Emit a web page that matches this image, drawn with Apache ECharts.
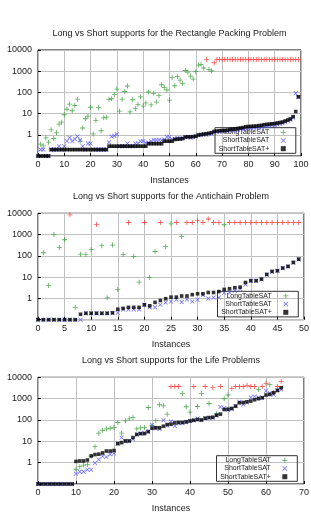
<!DOCTYPE html>
<html><head><meta charset="utf-8">
<script src="https://cdn.jsdelivr.net/npm/echarts@6/dist/echarts.min.js"></script>
<style>html,body{margin:0;padding:0;background:#fff}#c{width:311px;height:516px}</style>
</head><body><div id="c"></div>
<script>
// ---------- Data ----------
const seriesNames = ['LongTableSAT', 'ShortTableSAT', 'ShortTableSAT+'];
const yTicks = [0.1, 1, 10, 100, 1000, 10000];

// Rectangle Packing (instances 0..99)
const rectTitle = 'Long vs Short supports for the Rectangle Packing Problem';
const rectLong = [null,0.36,0.30,0.72,0.45,1.72,0.67,1.24,3.2,3.96,
  8.8,16,28,13.6,24,48,0.5,2.1,5.7,7.6,
  20,1.1,4.8,19,1.55,6.3,6.8,47,50,80,
  144,13,48,110,200,12,45,17.6,27,62,
  22.6,32,104,26,90,35,70,230,172,130,
  43,510,206,570,380,265,1080,910,590,425,
  950,1950,2100,1420,3600,1230,1020,2500,3600,3600,
  3600,3600,3600,3600,3600,3600,3600,3600,3600,3600,
  3600,3600,3600,3600,3600,3600,3600,3600,3600,3600,
  3600,3600,3600,3600,3600,3600,3600,3600,3600,3600];
const rectTimeouts = [64,67,68,69,70,71,72,73,74,75,76,77,78,79,80,81,82,83,84,85,86,87,88,89,90,91,92,93,94,95,96,97,98,99];
const rectShort = [0.1,0.2,0.2,0.1,0.1,0.2,0.2,0.2,0.29,0.2,
  0.29,0.5,0.72,0.5,0.63,0.84,0.56,0.29,0.2,0.39,
  0.39,0.2,0.2,0.2,0.2,0.2,0.2,0.44,0.84,0.9,
  1.05,0.29,0.29,0.29,0.39,0.29,0.29,0.39,0.39,0.5,
  0.5,0.42,0.42,0.5,0.57,0.57,0.57,0.55,0.6,0.78,
  0.78,0.62,0.66,0.7,0.66,0.7,0.78,0.8,0.72,0.78,
  0.85,0.95,1.0,1.05,1.0,1.1,1.15,1.3,1.35,1.4,
  1.45,1.5,1.5,1.6,1.65,1.7,1.75,1.85,1.9,2.0,
  2.1,2.1,2.2,2.2,2.3,2.4,2.5,2.6,2.7,2.8,
  2.9,3.1,3.3,3.5,4.0,4.5,5.2,6.6,90,60];
const rectShortPlus = [0.1,0.1,0.1,0.1,0.1,0.2,0.2,0.2,0.2,0.2,
  0.2,0.2,0.2,0.2,0.2,0.2,0.2,0.2,0.2,0.2,
  0.2,0.2,0.2,0.2,0.2,0.2,0.2,0.29,0.29,0.29,
  0.29,0.29,0.29,0.29,0.29,0.29,0.29,0.29,0.29,0.29,
  0.29,0.29,0.38,0.38,0.38,0.38,0.38,0.38,0.5,0.5,
  0.5,0.5,0.6,0.62,0.64,0.66,0.78,0.8,0.8,0.82,
  0.85,0.98,1.02,1.08,1.12,1.18,1.25,1.45,1.5,1.55,
  1.58,1.6,1.65,1.8,1.85,1.9,2.0,2.1,2.2,2.4,
  2.45,2.5,2.55,2.6,2.7,2.8,3.0,3.1,3.2,3.3,
  3.4,3.6,3.8,4.0,4.5,5.0,5.6,7.2,12.5,62];
const rectXTicks = [0,10,20,30,40,50,60,70,80,90,100];

// Antichain (instances 0..49)
const antiTitle = 'Long vs Short supports for the Antichain Problem';
const antiLong = [null,140,4.1,1000,250,570,8500,0.38,120,117,
  200,3000,300,1.07,320,2.65,117,3700,95,5.8,
  3700,9.7,160,3700,270,3200,3700,820,3700,3700,
  4500,3700,5400,3700,3700,2900,3700,3700,3700,3700,
  3700,3700,3700,3700,3700,3700,3700,3700,3700,3700];
const antiTimeouts = [6,11,17,20,23,26,28,29,30,31,32,33,34,36,37,38,39,40,41,42,43,44,45,46,47,48,49];
const antiShort = [0.1,0.1,0.1,0.1,0.1,0.1,0.1,0.1,0.1,0.2,
  0.2,0.2,0.2,0.2,0.2,0.21,0.3,0.3,0.3,0.3,
  0.5,0.38,0.38,0.5,0.65,0.72,0.87,0.67,0.9,0.72,
  0.87,1.43,1.0,1.1,1.1,1.85,1.85,2.3,2.85,4.5,
  6.8,6.8,7.8,13,18,20,26,32,48,68];
const antiShortPlus = [0.1,0.1,0.1,0.1,0.1,0.1,0.1,0.1,0.18,0.2,
  0.2,0.2,0.2,0.2,0.21,0.31,0.34,0.38,0.38,0.38,
  0.5,0.45,0.65,0.8,0.97,1.15,1.15,1.3,1.3,1.5,
  1.65,1.65,1.9,1.9,2.1,2.65,2.85,3.2,3.4,5.6,
  6.8,6.8,8.1,13.4,18.6,20,26.7,32,49,70];
const antiXTicks = [0,5,10,15,20,25,30,35,40,45,50];

// Life (instances 0..64)
const lifeTitle = 'Long vs Short supports for the Life Problems';
const lifeLong = [null,null,null,null,null,null,null,null,null,null,
  0.49,0.65,0.77,0.83,2.0,5.6,24,33,38,41,
  44,76,24,91,113,130,38,43,44,385,
  55,94,515,460,188,3700,3700,3700,1750,415,
  235,3700,430,1750,3700,590,3300,190,3700,990,
  1480,3000,3700,3700,3700,4200,3700,3700,2700,3700,
  5200,4500,2000,3700,6500];
const lifeTimeouts = [35,36,37,41,44,46,48,51,52,53,54,55,56,57,59,60,62,63,64];
const lifeShort = [0.1,0.1,0.1,0.1,0.1,0.1,0.1,0.1,0.1,0.1,
  0.3,0.38,0.38,0.47,0.47,0.97,1.4,2.0,1.85,2.45,
  2.7,7.8,15,10,10.4,12.5,21,23,25,28,
  57,41,38,98,55,85,52,70,72,81,
  90,97,117,100,118,125,120,160,410,360,
  290,340,450,710,530,640,1140,1270,1140,1100,
  2350,1800,1520,2500,2700];
const lifeShortPlus = [0.1,0.1,0.1,0.1,0.1,0.1,0.1,0.1,0.1,0.1,
  1.15,1.2,1.2,1.33,2.06,2.4,2.5,2.85,3.5,3.5,
  3.7,7.8,8.7,10.4,10.4,15,21,23,23,28.5,
  41,43,43,51,61,63,73,76,76,81,
  90,97,105,100,121,130,135,168,188,310,
  320,345,445,640,660,710,770,885,1000,1100,
  1470,1580,1880,2420,3250];
const lifeXTicks = [0,10,20,30,40,50,60,70];

// ---------- Layout / style ----------
const FONT = '"Liberation Sans", Arial, Helvetica, sans-serif';
const TXT = '#1a1a1a';
const PLUS = 'path://M5,0h2v5h5v2h-5v5h-2v-5h-5v-2h5z';
const CROSS = 'path://M0,1.4L1.4,0L6,4.6L10.6,0L12,1.4L7.4,6L12,10.6L10.6,12L6,7.4L1.4,12L0,10.6L4.6,6Z';
const COL_LONG = '#2f9a2f', COL_TO = '#ff3030', COL_SHORT = '#4c4cff', COL_PLUS = '#000000';

const panels = [
  {title: rectTitle, long: rectLong, timeouts: rectTimeouts, short: rectShort, plus: rectShortPlus, xt: rectXTicks,
   grid: {left: 38, top: 50, width: 263, height: 106}, titleTop: 29.5, titleX: 169.5, legend: {left: 215, top: 127.7}},
  {title: antiTitle, long: antiLong, timeouts: antiTimeouts, short: antiShort, plus: antiShortPlus, xt: antiXTicks,
   grid: {left: 38, top: 213.3, width: 266, height: 106.4}, titleTop: 191.8, titleX: 171, legend: {left: 217.5, top: 291.3}},
  {title: lifeTitle, long: lifeLong, timeouts: lifeTimeouts, short: lifeShort, plus: lifeShortPlus, xt: lifeXTicks,
   grid: {left: 38, top: 377.3, width: 266, height: 106.7}, titleTop: 356.2, titleX: 171, legend: {left: 216.5, top: 455.7}}
];

function pts(arr, keep) {
  const out = [];
  arr.forEach((v, i) => { if (v != null && keep(i)) out.push([i, v]); });
  return out;
}

const option = {
  animation: false,
  backgroundColor: '#fff',
  textStyle: {fontFamily: FONT},
  title: [], grid: [], xAxis: [], yAxis: [], series: [], legend: []
};

panels.forEach((p, k) => {
  option.title.push({text: p.title, left: p.titleX, top: p.titleTop, textAlign: 'center', padding: 0,
    textStyle: {fontSize: 9, fontWeight: 'normal', color: TXT, fontFamily: FONT}});
  option.grid.push(Object.assign({show: true, borderColor: '#000', borderWidth: 1, backgroundColor: 'transparent',
    containLabel: false, outerBoundsMode: 'none'}, p.grid));
  const xMax = p.xt[p.xt.length - 1];
  option.xAxis.push({gridIndex: k, type: 'value', min: p.xt[0], max: xMax, interval: p.xt[1] - p.xt[0],
    axisLine: {show: false},
    axisTick: {inside: true, length: 3, lineStyle: {color: '#000'}},
    splitLine: {show: true, lineStyle: {color: '#c0c0c0', width: 1}},
    axisLabel: {fontSize: 9, color: TXT, margin: 4, fontFamily: FONT, showMinLabel: true, showMaxLabel: true, hideOverlap: false},
    name: 'Instances', nameLocation: 'middle', nameGap: 20,
    nameTextStyle: {fontSize: 9, color: TXT, fontFamily: FONT}});
  option.yAxis.push({gridIndex: k, type: 'log', logBase: 10, min: yTicks[0], max: yTicks[yTicks.length - 1], interval: 1,
    axisLine: {show: false},
    axisTick: {inside: true, length: 3, lineStyle: {color: '#000'}},
    splitLine: {show: true, lineStyle: {color: '#c0c0c0', width: 1}},
    axisLabel: {fontSize: 9, color: TXT, margin: 6, fontFamily: FONT, hideOverlap: false,
      formatter: v => (v >= 1 ? String(Math.round(v)) : '')},
    name: 'Solver Time', nameLocation: 'middle', nameGap: 30,
    nameTextStyle: {fontSize: 9, color: TXT, fontFamily: FONT}});
  const isTO = i => p.timeouts.indexOf(i) >= 0;
  const base = {type: 'scatter', xAxisIndex: k, yAxisIndex: k, silent: true, clip: false, z: 3};
  option.series.push(Object.assign({}, base, {name: seriesNames[0], data: pts(p.long, i => !isTO(i)),
    symbol: PLUS, symbolSize: 5, itemStyle: {color: COL_LONG}}));
  option.series.push(Object.assign({}, base, {name: seriesNames[0] + ' (timeout)', data: pts(p.long, isTO),
    symbol: PLUS, symbolSize: 5, itemStyle: {color: COL_TO}}));
  option.series.push(Object.assign({}, base, {name: seriesNames[1], data: pts(p.short, () => true),
    symbol: CROSS, symbolSize: 4.5, itemStyle: {color: COL_SHORT}}));
  option.series.push(Object.assign({}, base, {name: seriesNames[2], data: pts(p.plus, () => true),
    symbol: 'rect', symbolSize: 3.6, itemStyle: {color: COL_PLUS}}));
  option.legend.push({data: seriesNames.slice(), orient: 'vertical', align: 'right',
    left: p.legend.left, top: p.legend.top, z: 1,
    padding: [0.5, 10, 0.5, 2.3], itemGap: 0, itemWidth: 5, itemHeight: 5,
    borderColor: '#333', borderWidth: 1, borderRadius: 0, backgroundColor: 'transparent',
    selectedMode: false,
    textStyle: {fontSize: 7, color: TXT, fontFamily: FONT, width: 52, align: 'right', lineHeight: 8.2, padding: [0, 6.5, 0, 0]}});
});

const chart = echarts.init(document.getElementById('c'), null, {renderer: 'canvas'});
chart.setOption(option);
</script></body></html>
